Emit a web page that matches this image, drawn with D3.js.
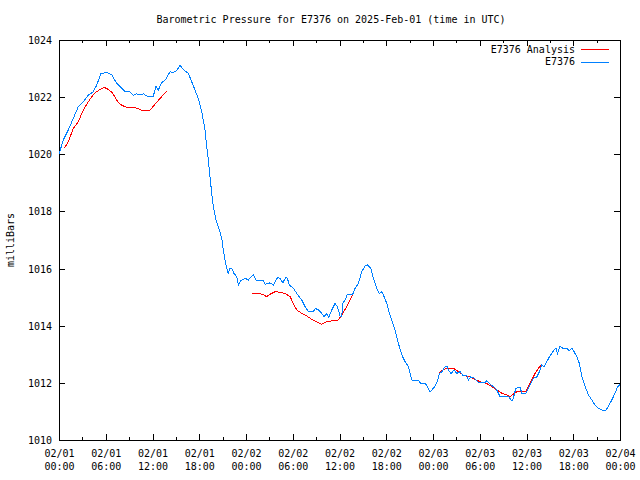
<!DOCTYPE html>
<html><head><meta charset="utf-8">
<script src="https://cdn.jsdelivr.net/npm/d3@7"></script>
<style>
body{margin:0;background:#fff;}
text{font-family:"DejaVu Sans Mono",monospace;font-size:10px;fill:#000;}
</style></head>
<body><svg id="c" width="640" height="480"></svg>
<script>
const title = "Barometric Pressure for E7376 on 2025-Feb-01 (time in UTC)";
const yLabel = "milliBars";
const seriesNames = ["E7376 Analysis", "E7376"];
const startTime = Date.UTC(2025, 1, 1, 0, 0);
const endTime = Date.UTC(2025, 1, 4, 0, 0);
const yTicks = [1010, 1012, 1014, 1016, 1018, 1020, 1022, 1024];

// E7376 observations: hours after start, pressure (mb)
const obsHours = [0,0.55,1.19,1.84,2.48,3.12,3.76,4.40,4.84,5.39,6.12,6.77,7.41,8.05,8.47,9.11,9.54,9.97,10.40,10.82,11.26,12.11,12.45,12.75,13.18,13.70,14.25,14.67,15.11,15.53,15.96,16.60,17.24,17.88,18.32,18.74,18.96,19.17,19.38,19.60,19.81,20.15,20.58,20.89,21.09,21.31,21.53,21.73,21.95,22.17,22.46,22.81,23.02,23.33,23.88,24.30,24.94,25.29,26.23,26.44,27.09,27.51,28.07,28.37,28.72,29.10,29.31,29.56,30.08,30.51,31.16,31.58,32.00,32.64,32.90,33.29,33.72,34.02,34.36,34.62,35.01,35.43,35.73,36.07,36.29,36.42,36.71,37.01,37.70,38.00,38.42,38.86,39.28,39.58,40.01,40.35,40.78,41.12,41.43,41.72,42.07,42.40,43.13,43.56,43.99,44.42,44.84,45.28,46.12,46.43,46.98,47.28,47.63,48.05,48.49,48.82,49.13,49.55,49.77,49.97,50.32,50.71,51.05,51.48,51.82,52.34,52.54,52.85,53.31,53.83,54.69,54.90,55.24,55.75,56.19,56.61,57.68,58.02,58.24,58.45,58.63,59.18,59.40,59.91,60.24,60.59,60.89,61.32,61.66,61.96,62.26,62.61,62.94,63.25,63.54,63.80,63.97,64.31,64.66,65.17,65.47,65.82,66.11,66.46,66.79,67.10,67.52,67.95,68.38,68.81,69.23,69.67,70.22,70.51,70.95,71.37,71.67,72.0];
const obsPressure = [1020.00,1020.50,1020.85,1021.26,1021.67,1021.84,1022.07,1022.19,1022.42,1022.83,1022.86,1022.78,1022.48,1022.31,1022.19,1022.19,1022.07,1022.12,1022.07,1022.12,1022.04,1022.04,1022.39,1022.25,1022.51,1022.62,1022.89,1022.86,1022.93,1023.12,1022.97,1022.83,1022.40,1021.95,1021.50,1020.85,1020.27,1019.80,1019.22,1018.63,1018.17,1017.70,1017.35,1017.06,1016.65,1016.30,1016.01,1015.83,1016.01,1016.01,1015.83,1015.72,1015.43,1015.58,1015.66,1015.60,1015.78,1015.60,1015.60,1015.45,1015.50,1015.43,1015.69,1015.66,1015.50,1015.69,1015.66,1015.43,1015.31,1015.13,1014.90,1014.67,1014.49,1014.49,1014.61,1014.55,1014.43,1014.32,1014.42,1014.29,1014.55,1014.78,1014.67,1014.34,1014.32,1014.78,1014.90,1015.10,1015.10,1015.31,1015.48,1015.89,1016.09,1016.13,1016.01,1015.66,1015.31,1015.13,1015.19,1015.02,1014.78,1014.43,1013.85,1013.38,1012.98,1012.74,1012.57,1012.10,1012.08,1011.99,1011.99,1011.87,1011.69,1011.81,1011.99,1012.33,1012.39,1012.57,1012.59,1012.45,1012.33,1012.45,1012.33,1012.39,1012.27,1012.27,1012.10,1012.21,1012.16,1012.01,1012.01,1012.08,1011.97,1011.87,1011.75,1011.52,1011.52,1011.40,1011.40,1011.61,1011.81,1011.84,1011.64,1011.64,1011.81,1011.99,1012.16,1012.21,1012.39,1012.63,1012.57,1012.74,1012.91,1013.03,1013.15,1013.21,1013.03,1013.29,1013.21,1013.21,1013.13,1013.21,1013.09,1012.91,1012.68,1012.21,1011.87,1011.58,1011.40,1011.22,1011.11,1011.05,1011.05,1011.19,1011.40,1011.64,1011.85,1011.95];

// E7376 Analysis: hours after start, pressure (mb); null marks a gap
const anaHours = [0.68,1.19,1.84,2.48,3.12,3.76,4.53,5.26,5.82,6.33,6.84,7.61,8.05,8.69,9.76,10.53,11.68,12.32,13.18,13.83,
  null,
  24.74,25.80,26.23,26.66,27.09,27.73,28.37,29.01,29.65,30.08,30.51,31.16,31.80,32.44,33.08,33.72,34.36,35.21,35.85,36.29,36.93,37.36,37.78,
  null,
  48.82,49.33,49.77,50.62,51.26,51.90,52.67,53.40,54.04,54.81,55.54,56.19,56.83,57.47,57.89,58.75,59.40,59.91,60.24,60.67,61.10,61.53,61.96];
const anaPressure = [1020.21,1020.44,1020.91,1021.14,1021.55,1021.84,1022.13,1022.27,1022.34,1022.27,1022.16,1021.81,1021.72,1021.64,1021.64,1021.55,1021.55,1021.75,1022.02,1022.21,
  null,
  1015.13,1015.13,1015.08,1015.02,1015.10,1015.19,1015.17,1015.13,1015.02,1014.78,1014.55,1014.43,1014.34,1014.22,1014.14,1014.05,1014.14,1014.18,1014.20,1014.37,1014.67,1014.90,1015.13,
  null,
  1012.35,1012.47,1012.51,1012.51,1012.39,1012.27,1012.21,1012.12,1012.04,1011.99,1011.87,1011.75,1011.64,1011.58,1011.52,1011.69,1011.71,1011.71,1011.87,1012.10,1012.33,1012.51,1012.63];

const colors = ["#ff0000", "#0080ff"];
const L = 59, R = 620, T = 40, B = 440;

const svg = d3.select("#c");
const x = d3.scaleUtc().domain([new Date(startTime), new Date(endTime)]).range([L, R]);
const y = d3.scaleLinear().domain([1010, 1024]).range([B, T]);
const toDate = h => new Date(startTime + h * 3600e3);

const obs = obsHours.map((h, i) => ({t: toDate(h), p: obsPressure[i]}));
const ana = anaHours.map((h, i) => h == null ? null : ({t: toDate(h), p: anaPressure[i]}));

svg.append("text").attr("x", 331).attr("y", 23).attr("text-anchor", "middle").text(title);
svg.append("text").attr("transform", "translate(14,240) rotate(-90)").attr("text-anchor", "middle").text(yLabel);

function clean(g){ g.select(".domain").remove(); g.selectAll("line").attr("stroke","#000").attr("shape-rendering","crispEdges"); }

// minor x ticks
svg.append("g").attr("transform", `translate(0,${B})`)
  .call(d3.axisBottom(x).ticks(d3.utcHour.every(3)).tickSize(-3).tickFormat(""))
  .call(clean);
svg.append("g").attr("transform", `translate(0,${T})`)
  .call(d3.axisTop(x).ticks(d3.utcHour.every(3)).tickSize(-3).tickFormat(""))
  .call(clean);
// major x ticks
const fmtD = d3.utcFormat("%m/%d"), fmtH = d3.utcFormat("%H:%M");
const gx = svg.append("g").attr("transform", `translate(0,${B})`)
  .call(d3.axisBottom(x).ticks(d3.utcHour.every(6)).tickSize(-6).tickPadding(0).tickFormat(""))
  .call(clean);
gx.selectAll(".tick text").each(function(d){
  const t = d3.select(this).attr("y", null).attr("dy", null);
  t.append("tspan").attr("x", 0).attr("y", 16.5).text(fmtD(d));
  t.append("tspan").attr("x", 0).attr("y", 30).text(fmtH(d));
});
svg.append("g").attr("transform", `translate(0,${T})`)
  .call(d3.axisTop(x).ticks(d3.utcHour.every(6)).tickSize(-6).tickFormat(""))
  .call(clean);
// y ticks
svg.append("g").attr("transform", `translate(${L},0)`)
  .call(d3.axisLeft(y).tickValues(yTicks).tickSize(-6).tickPadding(7).tickFormat(d3.format("d")))
  .call(clean)
  .selectAll("text").attr("dy","0.35em");
svg.append("g").attr("transform", `translate(${R},0)`)
  .call(d3.axisRight(y).tickValues(yTicks).tickSize(-6).tickFormat(""))
  .call(clean);
svg.selectAll(".tick text").style("font-family","DejaVu Sans Mono").style("font-size","10px");

// frame
svg.append("rect").attr("x", L + 0.5).attr("y", T + 0.5).attr("width", R - L).attr("height", B - T)
  .attr("fill", "none").attr("stroke", "#000").attr("shape-rendering", "crispEdges");

const line = d3.line().defined(d => d != null).x(d => x(d.t)).y(d => y(d.p));
svg.append("path").datum(ana).attr("d", line).attr("fill", "none").attr("stroke", colors[0])
  .attr("stroke-width", 1).attr("shape-rendering", "crispEdges");
svg.append("path").datum(obs).attr("d", line).attr("fill", "none").attr("stroke", colors[1])
  .attr("stroke-width", 1).attr("shape-rendering", "crispEdges");

// legend
seriesNames.forEach((n, i) => {
  const yy = 49 + i * 12.5;
  svg.append("text").attr("x", 575).attr("y", yy).attr("dy", "0.35em").attr("text-anchor", "end").text(n);
  svg.append("line").attr("x1", 581).attr("x2", 609).attr("y1", yy + 0.5).attr("y2", yy + 0.5)
    .attr("stroke", colors[i]).attr("shape-rendering", "crispEdges");
});
</script></body></html>
